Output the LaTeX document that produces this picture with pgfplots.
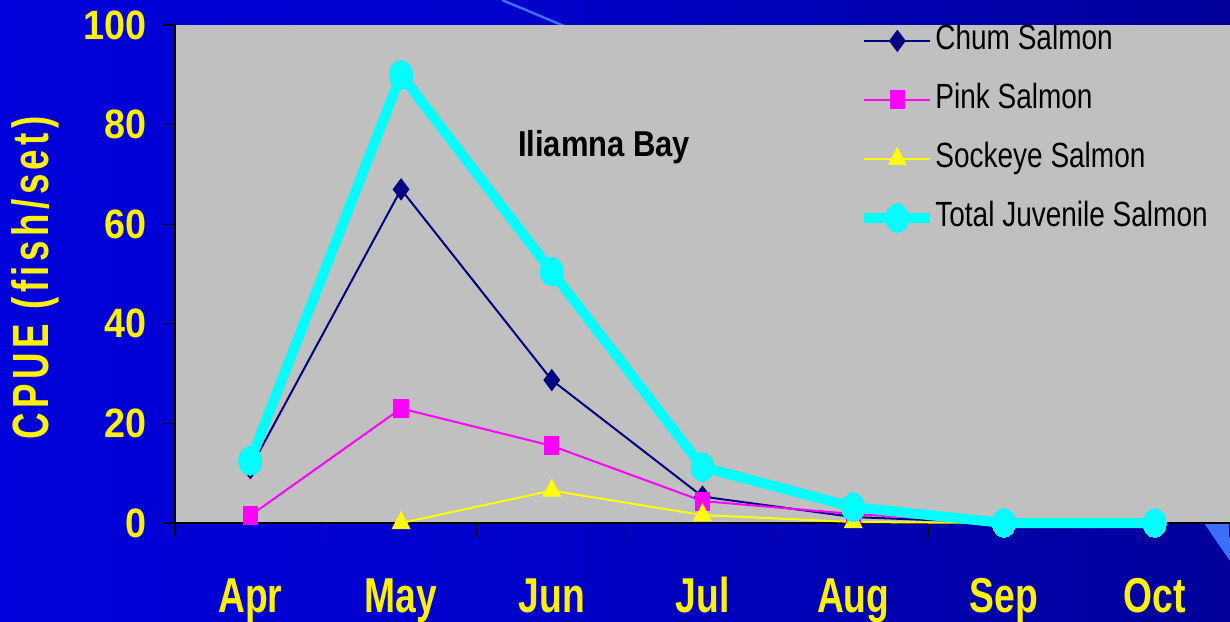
\documentclass[border=0pt]{standalone}
\usepackage{fontspec}
\setmainfont{Liberation Sans}
\usepackage{pgfplots}
\pgfplotsset{compat=1.18}
\newfontfamily\ytickfont[FakeStretch=0.92]{Liberation Sans}
\newfontfamily\xtickfont[FakeStretch=0.76]{Liberation Sans}
\newfontfamily\legfont[FakeStretch=0.8]{Liberation Sans}
\newfontfamily\titlefont[FakeStretch=0.86]{Liberation Sans}
\newfontfamily\ylabfont[FakeStretch=0.72,LetterSpace=8.8]{Liberation Sans}

\definecolor{plotgray}{RGB}{192,192,192}
\definecolor{chum}{RGB}{0,0,128}
\definecolor{pinkc}{RGB}{255,0,255}
\definecolor{sock}{RGB}{255,255,0}
\definecolor{total}{RGB}{0,255,255}
\definecolor{deco}{RGB}{60,110,255}
\pgfdeclarehorizontalshading{bgshade}{100bp}{rgb(0bp)=(0,0,0.92); rgb(45bp)=(0,0,0.80); rgb(75bp)=(0,0,0.60); rgb(100bp)=(0,0,0.34)}

\begin{document}
\begin{tikzpicture}
% page = 1230x621 px at 0.5pt per px
\useasboundingbox (0,0) rectangle (615pt,310.5pt);
\fill[shading=bgshade] (0,0) rectangle (615pt,310.5pt);
\draw[deco, line width=1.2pt] (251pt,310.5pt) -- (300pt,290pt);
\fill[deco] (602pt,49pt) -- (615pt,49pt) -- (615pt,30pt) -- cycle;

\begin{axis}[
    scale only axis,
    width=527.5pt, height=249pt,
    at={(87.5pt,49pt)}, anchor=south west,
    xmin=-0.5, xmax=6.5,
    ymin=0, ymax=100,
    clip=false,
    axis background/.style={fill=plotgray},
    axis lines=left,
    axis line style={-, black, line width=0.7pt},
    xtick={0,...,6},
    xticklabels={Apr,May,Jun,Jul,Aug,Sep,Oct},
    minor xtick={-0.5,0.5,...,6.5},
    major x tick style={draw=none},
    minor x tick style={black, line width=0.6pt},
    minor tick length=7pt,
    ytick={0,20,...,100},
    major y tick style={black, line width=0.6pt},
    major tick length=5.5pt,
    tick align=outside,
    /pgf/number format/assume math mode=true,
    xticklabel style={font=\xtickfont\bfseries\fontsize{24.5}{28}\selectfont, text=yellow, anchor=base, yshift=-39pt},
    yticklabel style={font=\ytickfont\bfseries\fontsize{20.5}{24}\selectfont, text=yellow, anchor=east, inner sep=0pt, xshift=-8.5pt},
    ylabel={CPUE (fish/set)},
    ylabel style={at={(rel axis cs:-0.1327,0.492)}, rotate=0, anchor=center, font=\ylabfont\bfseries\fontsize{25.5}{28}\selectfont, text=yellow},
    legend style={at={(rel axis cs:0.6483,1.001)}, anchor=north west, draw=none, fill=none,
        inner sep=0pt, row sep=13.5pt,
        font=\legfont\fontsize{17.5}{20}\selectfont,
        nodes={text height=12.5pt, text depth=3.5pt, inner sep=0pt, anchor=west},
        /tikz/every odd column/.append style={column sep=0pt}},
    legend cell align=left,
    legend image code/.code={\draw[mark repeat=2,mark phase=2] plot coordinates {(0pt,0pt)(16.5pt,0pt)(33pt,0pt)};},
]
\addplot[chum, line width=1pt, mark=diamond*, mark size=4.8pt, mark options={solid, fill=chum}]
    coordinates {(0,11) (1,67) (2,28.7) (3,5.3) (4,1.2) (5,0)};
\addlegendentry{Chum Salmon}
\addplot[pinkc, line width=1pt, mark=square*, mark size=3.3pt, mark options={solid, fill=pinkc, yscale=1.3}]
    coordinates {(0,1.5) (1,23) (2,15.5) (3,4.4) (4,1.8) (5,0)};
\addlegendentry{Pink Salmon}
\addplot[sock, line width=1pt, mark=triangle*, mark size=5pt, mark options={solid, fill=sock, xscale=0.9}]
    coordinates {(1,0) (2,6.5) (3,1.6) (4,0.2) (5,0)};
\addlegendentry{Sockeye Salmon}
\addplot[total, line width=5pt, mark=*, mark size=7.2pt, mark options={solid, fill=total, line width=0pt, xscale=0.8}]
    coordinates {(0,12.5) (1,90) (2,50.5) (3,11.2) (4,3.2) (5,0) (6,0)};
\addlegendentry{Total Juvenile Salmon}
\node[anchor=base west, font=\titlefont\bfseries\fontsize{18}{20}\selectfont] at (axis cs:1.729,73.5) {Iliamna Bay};
\end{axis}
\end{tikzpicture}
\end{document}
